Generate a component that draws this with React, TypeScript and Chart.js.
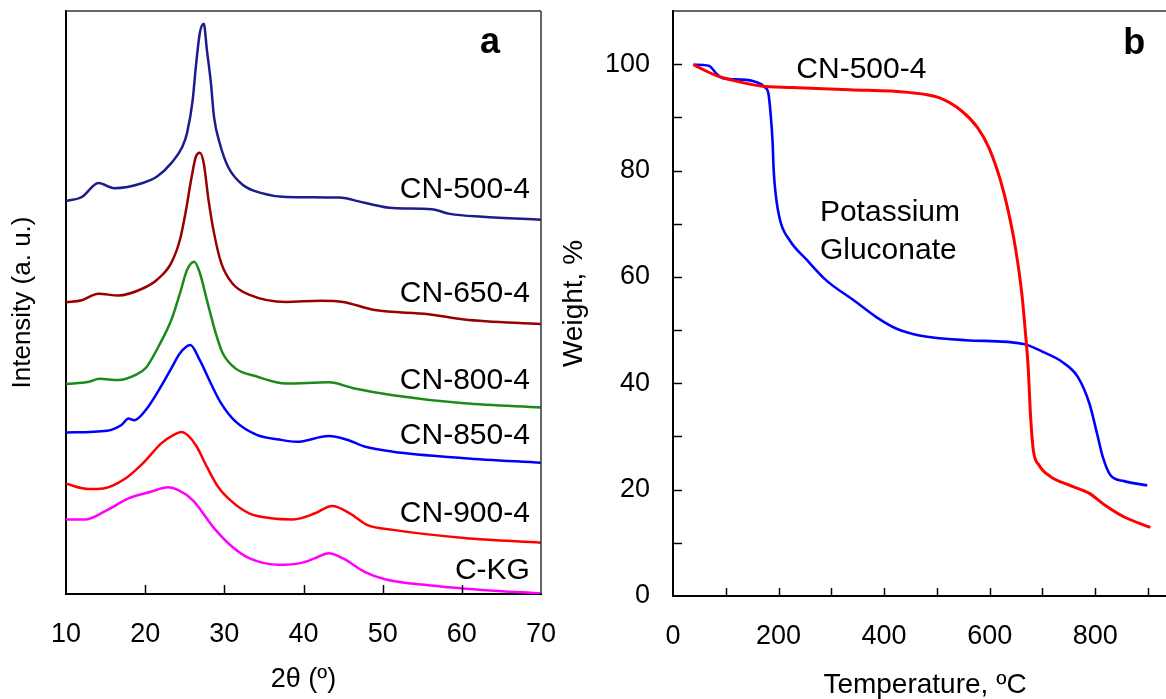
import React, { useEffect, useRef } from "react";
import { Chart, registerables } from "chart.js";

Chart.register(...registerables);

const FONT = "'Liberation Sans', Arial, Helvetica, sans-serif";

// ---------- Panel a: XRD ----------
const xrdNames = ["CN-500-4", "CN-650-4", "CN-800-4", "CN-850-4", "CN-900-4", "C-KG"];
const xrdColors = ["#1c1c8a", "#990000", "#1a8a1a", "#0000ff", "#ff0000", "#ff00ff"];

const cn500Angle = [10, 12, 14.1, 16.1, 19.7, 21.5, 23.3, 24.7, 25.3, 26.0, 26.4, 26.9, 27.4, 27.8, 28.3, 28.7, 29.4, 30.5, 32.4, 34.6, 37.8, 44.5, 47.7, 51.3, 56.2, 58.5, 62.6, 70];
const cn500Int = [67.4, 68.1, 70.5, 69.6, 70.5, 71.6, 73.9, 76.7, 79.1, 84.7, 90.4, 96.2, 97.8, 93.3, 87.7, 81.8, 77.4, 73.2, 70.1, 68.8, 68.1, 68.0, 67.1, 66.2, 66.0, 65.2, 64.7, 64.2];

const cn650Angle = [10, 12, 14.1, 16.6, 19.7, 21.5, 23.3, 24.4, 25.1, 25.8, 26.4, 26.9, 27.4, 28.0, 28.7, 29.6, 31.0, 33.2, 37.8, 42.2, 45.0, 49.0, 55.8, 60.3, 70];
const cn650Int = [50.0, 50.4, 51.5, 51.2, 52.4, 53.9, 56.8, 60.8, 65.4, 71.0, 75.0, 75.7, 73.9, 67.6, 61.9, 56.8, 53.3, 51.3, 50.1, 50.3, 50.1, 48.7, 48.0, 47.1, 46.3];

const cn800Angle = [10, 12.9, 14.2, 16.6, 18.8, 20.1, 21.7, 23.3, 24.4, 25.3, 26.2, 26.9, 27.8, 28.9, 29.8, 31.4, 34.1, 37.8, 43.2, 46.3, 51.3, 60.3, 70];
const cn800Int = [36.0, 36.4, 36.9, 36.7, 37.6, 38.8, 42.5, 47.0, 51.6, 55.6, 57.0, 55.1, 50.4, 44.8, 41.3, 38.7, 37.3, 36.1, 36.3, 35.3, 34.1, 32.7, 32.0];

const cn850Angle = [10, 15.2, 17.0, 17.9, 18.6, 20.1, 22.0, 23.3, 24.4, 25.7, 26.9, 28.3, 29.6, 31.4, 34.1, 36.9, 39.1, 43.2, 45.4, 47.7, 51.3, 60.3, 70];
const cn850Int = [27.7, 28.0, 29.0, 30.1, 29.8, 31.6, 35.6, 38.7, 41.3, 42.7, 40.1, 36.1, 32.7, 29.6, 27.3, 26.5, 26.1, 27.1, 26.5, 25.3, 24.4, 23.3, 22.5];

const cn900Angle = [10, 12.9, 14.7, 17.5, 19.7, 22.0, 23.6, 24.6, 25.4, 26.5, 27.8, 29.2, 31.0, 33.2, 35.9, 38.7, 41.4, 43.6, 45.9, 48.1, 51.3, 60.3, 70];
const cn900Int = [18.9, 18.0, 18.1, 19.8, 22.4, 25.8, 27.3, 27.8, 27.2, 25.3, 21.8, 18.4, 15.8, 13.8, 13.0, 12.8, 13.8, 15.1, 13.8, 11.8, 11.0, 9.6, 8.8];

const ckgAngle = [10, 12.5, 15.2, 17.9, 20.6, 22.9, 24.2, 26.0, 28.7, 31.0, 33.2, 36.9, 39.6, 41.4, 43.2, 45.0, 47.7, 50.4, 55.8, 62.6, 70];
const ckgInt = [12.8, 12.8, 14.4, 16.4, 17.5, 18.3, 17.8, 16.1, 11.3, 8.1, 6.1, 5.0, 5.3, 6.1, 7.0, 6.1, 3.8, 2.5, 1.5, 0.7, 0.1];

const xrdAngles = [cn500Angle, cn650Angle, cn800Angle, cn850Angle, cn900Angle, ckgAngle];
const xrdValues = [cn500Int, cn650Int, cn800Int, cn850Int, cn900Int, ckgInt];
// label anchor (2θ, intensity) for each curve name
const xrdLabelAngle = [68.6, 68.6, 68.6, 68.6, 68.6, 68.6];
const xrdLabelLevel = [67.9, 50.1, 35.2, 25.7, 12.4, 2.6];
const xrdTicks = [10, 20, 30, 40, 50, 60, 70];

// ---------- Panel b: TGA ----------
const tgaNames = ["CN-500-4", "Potassium Gluconate"];
const tgaColors = ["#ff0000", "#0000ff"];

const cnTemp = [38.6, 78.8, 115.5, 166.7, 225, 335, 445, 504, 547, 576.7, 598.5, 620.6, 635, 649.6, 661, 668, 673, 677.6, 682.8, 693.7, 716, 752, 789, 818, 854, 904.5];
const cnWeight = [99.9, 98.0, 96.9, 95.9, 95.6, 95.2, 94.7, 93.7, 91.2, 88.1, 84.3, 78.1, 72.5, 65.0, 56.8, 49.3, 43.0, 33.7, 27.4, 24.6, 22.4, 20.8, 19.3, 17.1, 14.9, 12.9];

const kgTemp = [38.6, 67.8, 82.4, 92.8, 130, 155.7, 174, 181, 185, 188.6, 190.8, 194.5, 203, 221.6, 254.5, 291, 342.4, 386, 422.7, 466.8, 554.7, 664.5, 700.8, 737.6, 767, 789, 803.6, 814.5, 829, 854.7, 898.6];
const kgWeight = [99.9, 99.7, 98.2, 97.4, 97.1, 96.7, 95.7, 94.4, 90.6, 85.6, 80.0, 75.6, 70.6, 66.8, 63.1, 59.3, 55.6, 52.4, 50.3, 49.0, 48.1, 47.4, 45.9, 44.0, 41.2, 36.2, 30.5, 26.1, 22.7, 21.6, 20.8];

const tgaTemps = [cnTemp, kgTemp];
const tgaWeights = [cnWeight, kgWeight];

const zip = (xs: number[], ys: number[]) => xs.map((x, i) => ({ x, y: ys[i] }));

type Lbl = { text: string; x: number; y: number; align: CanvasTextAlign; font: string };

const fitX = (h: number) => (s: any) => {
  s.height = h;
  s.paddingLeft = 0;
  s.paddingRight = 0;
  s.paddingTop = 0;
  s.paddingBottom = 0;
};
const fitY = (w: number) => (s: any) => {
  s.width = w;
  s.paddingLeft = 0;
  s.paddingRight = 0;
  s.paddingTop = 0;
  s.paddingBottom = 0;
};

const frameTicks = {
  id: "frameTicks",
  afterDraw(chart: any, _args: any, opts: any) {
    const { ctx, chartArea: a, scales } = chart;
    ctx.save();
    ctx.strokeStyle = "#000";
    ctx.lineWidth = 1.5;
    const xs = scales.x;
    const ys = scales.y;
    if (opts.xTick) {
      xs.ticks.forEach((t: any) => {
        if (t.value <= xs.min || t.value >= xs.max) return;
        const p = Math.round(xs.getPixelForValue(t.value)) + 0.5;
        ctx.beginPath();
        ctx.moveTo(p, a.bottom);
        ctx.lineTo(p, a.bottom - opts.xTick);
        ctx.stroke();
      });
    }
    if (opts.yTick) {
      ys.ticks.forEach((t: any) => {
        if (t.value <= ys.min || t.value >= ys.max) return;
        const p = Math.round(ys.getPixelForValue(t.value)) + 0.5;
        ctx.beginPath();
        ctx.moveTo(a.left, p);
        ctx.lineTo(a.left + opts.yTick, p);
        ctx.stroke();
      });
    }
    ctx.strokeStyle = "#333";
    ctx.lineWidth = 1.5;
    if (opts.top) {
      ctx.beginPath();
      ctx.moveTo(a.left, a.top);
      ctx.lineTo(a.right, a.top);
      ctx.stroke();
    }
    if (opts.right) {
      ctx.beginPath();
      ctx.moveTo(a.right, a.top);
      ctx.lineTo(a.right, a.bottom);
      ctx.stroke();
    }
    ctx.fillStyle = "#000";
    ctx.textBaseline = "alphabetic";
    (opts.labels as Lbl[]).forEach((l) => {
      ctx.font = l.font;
      ctx.textAlign = l.align;
      ctx.fillText(l.text, xs.getPixelForValue(l.x), ys.getPixelForValue(l.y));
    });
    ctx.restore();
  },
};

function xrdConfig(): any {
  const labels: Lbl[] = xrdNames.map((n, i) => ({
    text: n,
    x: xrdLabelAngle[i],
    y: xrdLabelLevel[i],
    align: "right" as CanvasTextAlign,
    font: `30px ${FONT}`,
  }));
  labels.push({ text: "a", x: 63.55, y: 92.8, align: "center", font: `bold 36px ${FONT}` });
  return {
    type: "line",
    data: {
      datasets: xrdNames.map((n, i) => ({
        label: n,
        data: zip(xrdAngles[i], xrdValues[i]),
        borderColor: xrdColors[i],
        borderWidth: 2.5,
        pointRadius: 0,
        cubicInterpolationMode: "monotone",
        fill: false,
      })),
    },
    options: {
      responsive: false,
      animation: false,
      layout: { padding: { top: 11, right: 19, left: 0, bottom: 0 } },
      plugins: {
        legend: { display: false },
        tooltip: { enabled: false },
        frameTicks: { xTick: 9, yTick: 0, top: true, right: true, labels },
      },
      scales: {
        x: {
          type: "linear",
          min: 10,
          max: 70,
          afterFit: fitX(105),
          afterBuildTicks: (s: any) => { s.ticks = xrdTicks.map((v) => ({ value: v })); },
          grid: { display: false, drawTicks: false },
          border: { display: true, color: "#000", width: 2 },
          ticks: { autoSkip: false, maxRotation: 0, padding: 27.5, color: "#000", font: { size: 27, family: FONT, lineHeight: 1 } },
          title: { display: true, text: "2θ (º)", color: "#000", padding: { top: 0, bottom: 6 }, font: { size: 27, family: FONT, lineHeight: 1 } },
        },
        y: {
          type: "linear",
          min: 0,
          max: 100,
          afterFit: fitY(66),
          grid: { display: false, drawTicks: false },
          border: { display: true, color: "#000", width: 2 },
          ticks: { display: false },
          title: { display: true, text: "Intensity (a. u.)", color: "#000", padding: { top: 10, bottom: 0 }, font: { size: 26, family: FONT, lineHeight: 1 } },
        },
      },
    },
    plugins: [frameTicks],
  };
}

function tgaConfig(): any {
  const labels: Lbl[] = [
    { text: "CN-500-4", x: 233.7, y: 97.4, align: "left", font: `30px ${FONT}` },
    { text: "Potassium", x: 278.4, y: 70.6, align: "left", font: `30px ${FONT}` },
    { text: "Gluconate", x: 278.4, y: 63.3, align: "left", font: `30px ${FONT}` },
    { text: "b", x: 874, y: 101.9, align: "center", font: `bold 36px ${FONT}` },
  ];
  return {
    type: "line",
    data: {
      datasets: tgaNames.map((n, i) => ({
        label: n,
        data: zip(tgaTemps[i], tgaWeights[i]),
        borderColor: tgaColors[i],
        borderWidth: i === 0 ? 3 : 2.6,
        pointRadius: 0,
        cubicInterpolationMode: "monotone",
        fill: false,
      })),
    },
    options: {
      responsive: false,
      animation: false,
      layout: { padding: { top: 11, right: 0, left: 0, bottom: 0 } },
      plugins: {
        legend: { display: false },
        tooltip: { enabled: false },
        frameTicks: { xTick: 8, yTick: 9, top: true, right: false, labels },
      },
      scales: {
        x: {
          type: "linear",
          min: 0,
          max: 955,
          afterFit: fitX(103),
          grid: { display: false, drawTicks: false },
          border: { display: true, color: "#000", width: 2 },
          ticks: {
            stepSize: 100,
            includeBounds: false,
            autoSkip: false,
            maxRotation: 0,
            padding: 27.5,
            color: "#000",
            font: { size: 27, family: FONT, lineHeight: 1 },
            callback: (v: number) => (v % 200 === 0 ? String(v) : ""),
          },
          title: { display: true, text: "Temperature, ºC", color: "#000", padding: { top: 0, bottom: 0 }, font: { size: 28, family: FONT, lineHeight: 1 } },
        },
        y: {
          type: "linear",
          min: 0,
          max: 110,
          afterFit: fitY(113),
          grid: { display: false, drawTicks: false },
          border: { display: true, color: "#000", width: 2 },
          ticks: {
            stepSize: 10,
            autoSkip: false,
            padding: 23,
            color: "#000",
            font: { size: 27, family: FONT, lineHeight: 1 },
            callback: (v: number) => (v % 20 === 0 && v <= 100 ? String(v) : ""),
          },
          title: { display: true, text: "Weight, %", color: "#000", padding: { top: 0, bottom: 0 }, font: { size: 28, family: FONT, lineHeight: 1 } },
        },
      },
    },
    plugins: [frameTicks],
  };
}

export default function App() {
  const refA = useRef<HTMLCanvasElement | null>(null);
  const refB = useRef<HTMLCanvasElement | null>(null);

  useEffect(() => {
    const ca = new Chart(refA.current as HTMLCanvasElement, xrdConfig());
    const cb = new Chart(refB.current as HTMLCanvasElement, tgaConfig());
    return () => {
      ca.destroy();
      cb.destroy();
    };
  }, []);

  return (
    <div
      style={{
        position: "fixed",
        left: 0,
        top: 0,
        width: 1166,
        height: 699,
        overflow: "hidden",
        background: "#fff",
      }}
    >
      <canvas ref={refA} width={560} height={699} style={{ position: "absolute", left: 0, top: 0, width: 560, height: 699 }} />
      <canvas ref={refB} width={617} height={699} style={{ position: "absolute", left: 560, top: 0, width: 617, height: 699 }} />
    </div>
  );
}
